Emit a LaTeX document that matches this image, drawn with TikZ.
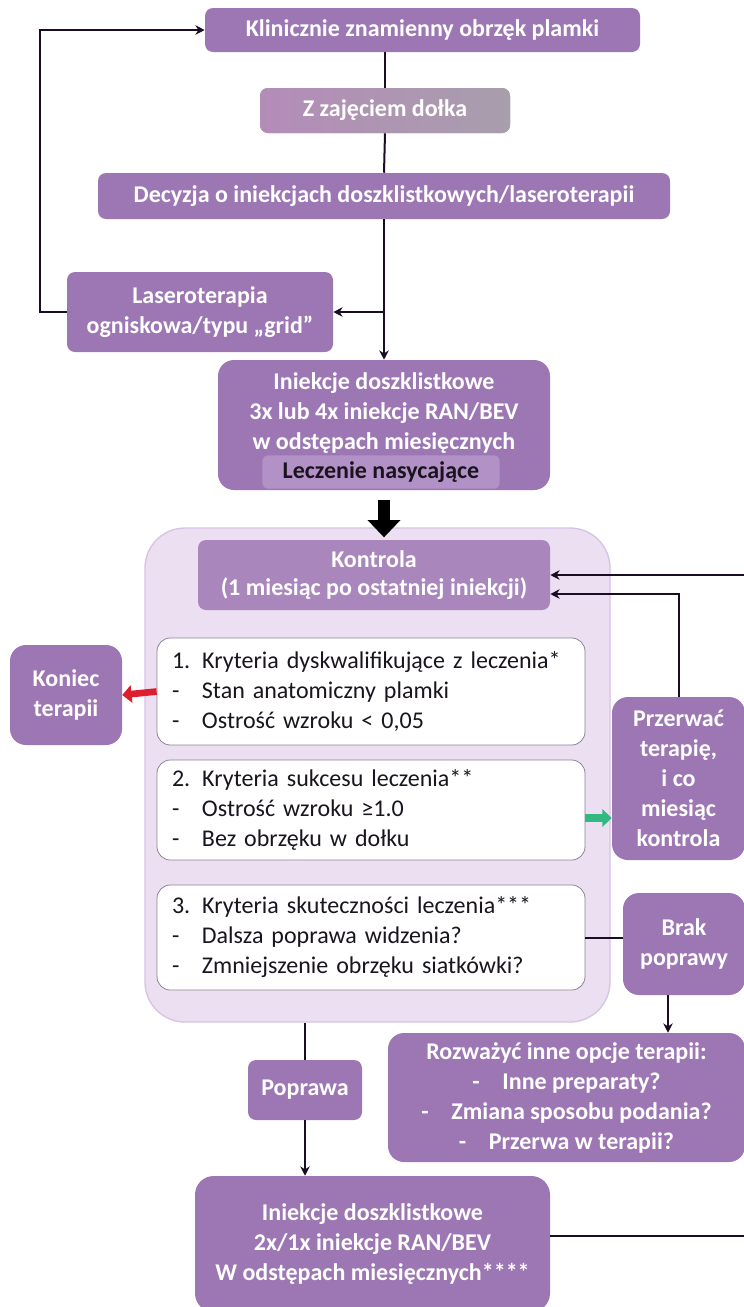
\documentclass[tikz,border=0pt]{standalone}
\usepackage{fontspec}
\setmainfont{Carlito}
\usetikzlibrary{arrows.meta}
\definecolor{pbox}{RGB}{157,119,180}
\definecolor{pboxlight}{RGB}{178,146,198}
\definecolor{zleft}{RGB}{180,140,184}
\definecolor{zright}{RGB}{168,158,172}
\definecolor{cont}{RGB}{236,223,241}
\definecolor{contedge}{RGB}{214,196,226}
\definecolor{critedge}{RGB}{140,130,150}
\definecolor{lineblk}{RGB}{25,12,35}
\definecolor{redarr}{RGB}{222,30,45}
\definecolor{greenarr}{RGB}{50,185,130}
\definecolor{txtdark}{RGB}{25,20,30}
\tikzset{
  pnode/.style={fill=pbox, draw=none, rounded corners=6pt, text=white, align=center,
     font=\bfseries\fontsize{18}{22.5}\selectfont, inner sep=2pt},
  crit/.style={fill=white, draw=critedge, line width=0.6pt, rounded corners=10pt, align=left,
     text=txtdark, font=\fontsize{18}{22.5}\selectfont, inner xsep=11.25pt, inner ysep=2pt,
     text width=298.5pt, minimum width=321pt},
  conn/.style={draw=lineblk, line width=1.5pt},
  arr/.style={conn, -{Stealth[length=7pt,width=7pt]}},
  bigarrow/.style={draw=black, line width=9pt, -{Triangle[length=13pt,width=24pt]}},
  redarrow/.style={draw=redarr, line width=5pt, -{Triangle[length=7pt,width=13pt]}},
  greenarrow/.style={draw=greenarr, line width=6pt, -{Triangle[length=7pt,width=13pt]}},
}
\newcommand{\dl}{\makebox[22.5pt][l]{-}}
\begin{document}
\begin{tikzpicture}[x=0.75pt,y=-0.75pt]
\useasboundingbox (0,0) rectangle (743,1307);
\fill[white] (0,0) rectangle (743,1307);

% container
\node[fill=cont, draw=contedge, line width=1pt, rounded corners=30pt,
      minimum width=348.75pt, minimum height=370.5pt] (cont) at (377.5,775) {};

% top boxes
\node[pnode, minimum width=326.25pt, minimum height=33pt] (k1) at (422.5,30) {Klinicznie znamienny obrzęk plamki};
\node[pnode, left color=zleft, right color=zright, minimum width=187.5pt, minimum height=33.75pt] (z) at (385,110.5) {Z zajęciem dołka};
\node[pnode, minimum width=429pt, minimum height=34.5pt] (dec) at (384,196) {Decyzja o iniekcjach doszklistkowych/laseroterapii};
\node[pnode, minimum width=199.5pt, minimum height=60pt] (laser) at (200,312) {Laseroterapia\\ogniskowa/typu „grid”};
\node[pnode, rounded corners=12pt, minimum width=249pt, minimum height=97.5pt] (inj) at (384,425) {};
\node[fill=pboxlight, rounded corners=4pt, minimum width=178pt, minimum height=25pt, inner sep=0pt,
      text=txtdark, font=\bfseries\fontsize{18}{22.5}\selectfont] (lecz) at (381,472) {Leczenie nasycające};
\node[text=white, align=center, font=\bfseries\fontsize{18}{22.5}\selectfont, inner sep=0pt] (injt) at (384,413) {Iniekcje doszklistkowe\\3x lub 4x iniekcje RAN/BEV\\w odstępach miesięcznych};

% control block
\node[pnode, fill=pbox!85!cont, font=\fontsize{18}{21}\selectfont\bfseries, minimum width=264pt, minimum height=52.5pt] (kon) at (374,575) {Kontrola\\(1 miesiąc po ostatniej iniekcji)};
\node[crit, minimum height=80.25pt] (c1) at (371,691.5) {1. Kryteria dyskwalifikujące z leczenia*\\\dl Stan anatomiczny plamki\\\dl Ostrość wzroku < 0,05};
\node[crit, minimum height=75pt] (c2) at (371,810) {2. Kryteria sukcesu leczenia**\\\dl Ostrość wzroku ≥1.0\\\dl Bez obrzęku w dołku};
\node[crit, minimum height=78.75pt] (c3) at (371,937.5) {3. Kryteria skuteczności leczenia***\\\dl Dalsza poprawa widzenia?\\\dl Zmniejszenie obrzęku siatkówki?};

% side boxes
\node[pnode, rounded corners=12pt, minimum width=84pt, minimum height=75pt] (kt) at (66,695) {Koniec\\terapii};
\node[pnode, rounded corners=12pt, minimum width=99.75pt, minimum height=122.25pt] (prz) at (678.5,778.5) {Przerwać\\terapię,\\i co\\miesiąc\\kontrola};
\node[pnode, rounded corners=12pt, minimum width=91.5pt, minimum height=76.5pt] (brak) at (684,944) {Brak\\poprawy};
\node[pnode, rounded corners=12pt, minimum width=267.75pt, minimum height=96.75pt] (roz) at (566.5,1097.5)
  {Rozważyć inne opcje terapii:\\\dl Inne preparaty?\\\dl Zmiana sposobu podania?\\\dl Przerwa w terapii?};
\node[pnode, minimum width=85.5pt, minimum height=45pt] (pop) at (305,1090) {Poprawa};
\node[pnode, rounded corners=14pt, minimum width=266.25pt, minimum height=102pt] (bot) at (372.5,1244)
  {Iniekcje doszklistkowe\\2x/1x iniekcje RAN/BEV\\W odstępach miesięcznych****};

% connectors
\draw[conn] (k1.south -| z.north) -- (z.north);
\draw[conn] (z.south) -- (dec.north);
\draw[arr] (dec.south) -- (inj.north);
\draw[arr] (dec.south |- laser.east) -- (laser.east);
\draw[arr] (laser.west) -- ++(-27,0) |- (k1.west);
\draw[bigarrow] ([yshift=-7.5pt]inj.south) -- ([yshift=-7.5pt]inj.south |- cont.north);
\draw[redarrow] (c1.west) -- (kt.east);
\draw[greenarrow] ([yshift=-6pt]c2.east) -- ([yshift=-6pt]c2.east -| prz.west);
\draw[conn] (c3.east) -- (c3.east -| brak.west);
\draw[arr] ([xshift=-12pt]brak.south) -- ([xshift=-12pt]brak.south |- roz.north);
\draw[arr] (prz.north) |- ([yshift=-14.25pt]kon.east);
\coordinate (rt) at (760,575);
\draw[arr] ([yshift=6pt]bot.east) -| (rt) -- (kon.east);
\draw[conn] (cont.south -| pop.north) -- (pop.north);
\draw[arr] (pop.south) -- (pop.south |- bot.north);
\end{tikzpicture}
\end{document}
